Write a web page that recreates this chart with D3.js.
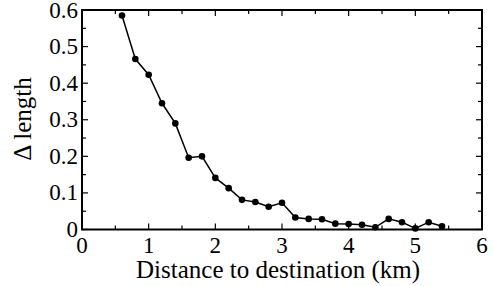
<!DOCTYPE html>
<html>
<head>
<meta charset="utf-8">
<script src="https://cdn.jsdelivr.net/npm/d3@7"></script>
<style>
  body { margin: 0; background: #fff; }
</style>
</head>
<body>
<svg id="chart"></svg>
<script>
const distance = [0.6, 0.8, 1.0, 1.2, 1.4, 1.6, 1.8, 2.0, 2.2, 2.4, 2.6, 2.8, 3.0,
  3.2, 3.4, 3.6, 3.8, 4.0, 4.2, 4.4, 4.6, 4.8, 5.0, 5.2, 5.4];
const deltaLength = [0.585, 0.466, 0.423, 0.345, 0.290, 0.196, 0.200, 0.141, 0.113,
  0.081, 0.075, 0.062, 0.073, 0.033, 0.029, 0.028, 0.016, 0.015, 0.013, 0.006,
  0.029, 0.020, 0.003, 0.020, 0.009];
const xTicks = [0, 1, 2, 3, 4, 5, 6];
const yTicks = [0, 0.1, 0.2, 0.3, 0.4, 0.5, 0.6];

const width = 493, height = 286;
const margin = {top: 10, right: 11, bottom: 56.5, left: 82};
const serif = "'Liberation Serif', 'Times New Roman', Times, 'DejaVu Serif', serif";

const svg = d3.select('#chart').attr('width', width).attr('height', height)
  .attr('font-family', serif);

const x = d3.scaleLinear().domain([0, 6]).range([margin.left, width - margin.right]);
const y = d3.scaleLinear().domain([0, 0.6]).range([height - margin.bottom, margin.top]);

const x0 = x(0), x1 = x(6), y0 = y(0), y1 = y(0.6);
const majorLen = 6, minorLen = 4;

const xMinor = d3.range(0.5, 6, 1);
const yMinor = d3.range(0.05, 0.6, 0.1);

const ticks = svg.append('g').attr('stroke', '#000').attr('stroke-width', 1.2);

// inward ticks, bottom and top
xTicks.concat(xMinor).forEach(v => {
  const len = xTicks.includes(v) ? majorLen : minorLen;
  ticks.append('line').attr('x1', x(v)).attr('x2', x(v)).attr('y1', y0).attr('y2', y0 - len);
  ticks.append('line').attr('x1', x(v)).attr('x2', x(v)).attr('y1', y1).attr('y2', y1 + len);
});
// inward ticks, left and right
yTicks.concat(yMinor).forEach(v => {
  const len = yTicks.includes(v) ? majorLen : minorLen;
  ticks.append('line').attr('y1', y(v)).attr('y2', y(v)).attr('x1', x0).attr('x2', x0 + len);
  ticks.append('line').attr('y1', y(v)).attr('y2', y(v)).attr('x1', x1).attr('x2', x1 - len);
});

svg.append('rect')
  .attr('x', x0).attr('y', y1)
  .attr('width', x1 - x0).attr('height', y0 - y1)
  .attr('fill', 'none').attr('stroke', '#000').attr('stroke-width', 2);

svg.append('g').selectAll('text')
  .data(xTicks)
  .enter()
  .append('text')
  .attr('x', d => x(d))
  .attr('y', y0 + 23.5)
  .attr('text-anchor', 'middle')
  .attr('font-family', serif)
  .attr('font-size', 23)
  .text(d => d);

svg.append('g').selectAll('text')
  .data(yTicks)
  .enter()
  .append('text')
  .attr('x', x0 - 4)
  .attr('y', d => y(d) + 7.5)
  .attr('text-anchor', 'end')
  .attr('font-family', serif)
  .attr('font-size', 23)
  .text(d => d === 0 ? '0' : d.toFixed(1));

svg.append('text')
  .attr('x', (x0 + x1) / 2 - 4)
  .attr('y', 278)
  .attr('text-anchor', 'middle')
  .attr('font-family', serif)
  .attr('font-size', 25)
  .text('Distance to destination (km)');

svg.append('text')
  .attr('transform', `translate(31, 119) rotate(-90)`)
  .attr('text-anchor', 'middle')
  .attr('font-family', serif)
  .attr('font-size', 25)
  .text('Δ length');

const line = d3.line()
  .x((d, i) => x(distance[i]))
  .y(d => y(d));

svg.append('path')
  .datum(deltaLength)
  .attr('d', line)
  .attr('fill', 'none')
  .attr('stroke', '#000')
  .attr('stroke-width', 1.5);

svg.append('g').selectAll('circle')
  .data(deltaLength)
  .enter()
  .append('circle')
  .attr('cx', (d, i) => x(distance[i]))
  .attr('cy', d => y(d))
  .attr('r', 3.3)
  .attr('fill', '#000');
</script>
</body>
</html>
